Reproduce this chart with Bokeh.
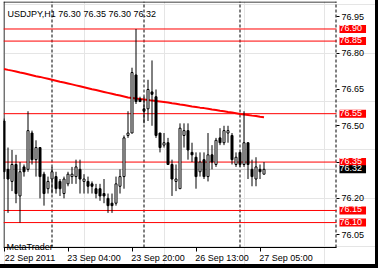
from bokeh.plotting import figure
from bokeh.models import (ColumnDataSource, Range1d, LinearAxis, FixedTicker,
                          Span, Label, PrintfTickFormatter, Spacer)
from bokeh.layouts import column, row
from bokeh.embed import file_html
from bokeh.resources import INLINE

# ---------------- data ----------------
bar_index = list(range(66))
opens = [76.52, 76.32, 76.27, 76.34, 76.21, 76.33, 76.32, 76.47, 76.36, 76.41,
         76.30, 76.24, 76.28, 76.29, 76.27, 76.22, 76.26, 76.29, 76.29, 76.32,
         76.27, 76.27, 76.26, 76.24, 76.24, 76.22, 76.20, 76.18, 76.18, 76.25,
         76.29, 76.46, 76.47, 76.71, 76.61, 76.57, 76.57, 76.64, 76.62, 76.47,
         76.42, 76.43, 76.34, 76.27, 76.24, 76.46, 76.48, 76.39, 76.37, 76.31,
         76.36, 76.29, 76.38, 76.34, 76.45, 76.43, 76.47, 76.46, 76.34, 76.39,
         76.34, 76.43, 76.32, 76.28, 76.32, 76.30]
highs = [76.53, 76.41, 76.40, 76.38, 76.35, 76.34, 76.56, 76.48, 76.44, 76.41,
         76.31, 76.29, 76.33, 76.31, 76.28, 76.29, 76.31, 76.33, 76.36, 76.36,
         76.30, 76.29, 76.27, 76.26, 76.26, 76.28, 76.22, 76.22, 76.29, 76.32,
         76.46, 76.56, 76.74, 76.90, 76.62, 76.62, 76.69, 76.77, 76.65, 76.47,
         76.47, 76.45, 76.36, 76.34, 76.51, 76.51, 76.51, 76.43, 76.39, 76.39,
         76.39, 76.47, 76.42, 76.45, 76.49, 76.50, 76.50, 76.47, 76.39, 76.39,
         76.56, 76.43, 76.36, 76.37, 76.34, 76.35]
lows = [76.28, 76.14, 76.23, 76.18, 76.10, 76.29, 76.31, 76.34, 76.29, 76.20,
        76.17, 76.22, 76.22, 76.22, 76.21, 76.20, 76.25, 76.26, 76.26, 76.22,
        76.22, 76.22, 76.22, 76.20, 76.19, 76.18, 76.14, 76.14, 76.17, 76.22,
        76.24, 76.45, 76.47, 76.59, 76.60, 76.51, 76.52, 76.50, 76.45, 76.39,
        76.41, 76.34, 76.21, 76.23, 76.24, 76.41, 76.36, 76.35, 76.24, 76.29,
        76.28, 76.27, 76.32, 76.33, 76.42, 76.42, 76.43, 76.34, 76.33, 76.33,
        76.33, 76.28, 76.25, 76.25, 76.28, 76.30]
closes = [76.31, 76.28, 76.34, 76.22, 76.31, 76.31, 76.48, 76.36, 76.41, 76.29,
          76.22, 76.27, 76.31, 76.24, 76.24, 76.28, 76.30, 76.30, 76.33, 76.28,
          76.28, 76.25, 76.25, 76.22, 76.21, 76.21, 76.17, 76.17, 76.26, 76.29,
          76.45, 76.47, 76.72, 76.60, 76.60, 76.56, 76.65, 76.63, 76.46, 76.41,
          76.43, 76.34, 76.28, 76.28, 76.49, 76.48, 76.40, 76.38, 76.29, 76.35,
          76.29, 76.38, 76.35, 76.44, 76.43, 76.48, 76.48, 76.36, 76.37, 76.34,
          76.43, 76.34, 76.29, 76.33, 76.31, 76.32]
ma_values = [76.735, 76.731, 76.728, 76.724, 76.720, 76.717, 76.713, 76.709, 76.705, 76.702,
             76.698, 76.694, 76.690, 76.686, 76.682, 76.679, 76.675, 76.671, 76.667, 76.663,
             76.659, 76.655, 76.651, 76.648, 76.644, 76.640, 76.636, 76.632, 76.628, 76.625,
             76.621, 76.617, 76.615, 76.613, 76.611, 76.609, 76.607, 76.604, 76.602, 76.600,
             76.598, 76.596, 76.593, 76.591, 76.588, 76.586, 76.583, 76.580, 76.578, 76.575,
             76.573, 76.570, 76.567, 76.565, 76.562, 76.560, 76.557, 76.555, 76.552, 76.549,
             76.547, 76.545, 76.542, 76.540, 76.537, 76.535]

red_levels = [76.90, 76.85, 76.55, 76.35, 76.15, 76.10]
bid_price = 76.32
price_ticks = [76.95, 76.80, 76.65, 76.50, 76.35, 76.20, 76.05]
time_ticks = [0, 16, 32, 48, 64]
time_labels = ["22 Sep 2011", "23 Sep 04:00", "23 Sep 20:00", "26 Sep 13:00", "27 Sep 05:00"]
day_separators = [12, 35, 59, 83]
title_text = "USDJPY,H1  76.30 76.35 76.30 76.32"
brand_text = "MetaTrader"

# ---------------- layout / style ----------------
FONT = "Liberation Sans"
FS = "9px"
RED = "#FF0000"
PX_PER_BAR = 4.0
PX_PER_PRICE = 241.98
CHART_W, CHART_H = 333, 246      # candle area (px)
FRAME_W, FRAME_H = 372, 263      # whole drawing frame (px)
X0 = -0.125
X_EDGE = X0 + CHART_W / PX_PER_BAR
X1 = X0 + FRAME_W / PX_PER_BAR
Y1 = 77.0136
Y_EDGE = Y1 - CHART_H / PX_PER_PRICE
Y0 = Y1 - FRAME_H / PX_PER_PRICE
LABEL_SHIFT = 26 / PX_PER_BAR    # left-aligned date labels: centre offset
HALF_PX_X = 0.5 / PX_PER_BAR
HALF_PX_Y = 0.5 / PX_PER_PRICE

tops = [max(o, c) for o, c in zip(opens, closes)]
bottoms = [min(o, c) for o, c in zip(opens, closes)]
fills = ["white" if c >= o else "black" for o, c in zip(opens, closes)]
src = ColumnDataSource(dict(x=bar_index, open=opens, high=highs, low=lows, close=closes,
                            top=tops, bottom=bottoms, fill=fills))
lvl_src = ColumnDataSource(dict(y=red_levels))
day_src = ColumnDataSource(dict(x=day_separators))

p = figure(width=FRAME_W + 3, height=FRAME_H + 1,
           x_range=Range1d(X0, X1), y_range=Range1d(Y0, Y1),
           output_backend="svg", toolbar_location=None, title_location=None,
           x_axis_location=None, y_axis_location=None,
           min_border_left=3, min_border_top=1, min_border_right=0, min_border_bottom=0)
p.sizing_mode = "fixed"
p.outline_line_color = None
p.background_fill_color = "white"
p.border_fill_color = "white"

# bottom axis: border line + tick marks
xaxis = LinearAxis(ticker=FixedTicker(ticks=time_ticks), bounds=(X0, X_EDGE),
                   fixed_location=Y_EDGE)
xaxis.axis_line_color = "black"
xaxis.major_tick_out = 4
xaxis.major_tick_in = 0
xaxis.minor_tick_line_color = None
xaxis.major_label_text_font_size = "0px"
xaxis.major_label_text_alpha = 0
p.add_layout(xaxis, "below")

# bottom axis: left-aligned date labels
label_ticks = [t + LABEL_SHIFT for t in time_ticks]
xlab = LinearAxis(ticker=FixedTicker(ticks=label_ticks), fixed_location=Y_EDGE,
                  major_label_overrides={t: l for t, l in zip(label_ticks, time_labels)})
xlab.axis_line_color = None
xlab.major_tick_line_color = None
xlab.minor_tick_line_color = None
xlab.major_tick_out = 4
xlab.major_tick_in = 0
xlab.major_label_standoff = 1
xlab.major_label_text_font = FONT
xlab.major_label_text_font_size = FS
xlab.major_label_text_color = "black"
p.add_layout(xlab, "below")

# price axis at the chart's right edge
yaxis = LinearAxis(ticker=FixedTicker(ticks=price_ticks), fixed_location=X_EDGE,
                   formatter=PrintfTickFormatter(format="%.2f"))
yaxis.axis_line_color = None
yaxis.major_tick_out = 3
yaxis.major_tick_in = 0
yaxis.minor_tick_line_color = None
yaxis.major_label_standoff = 2
yaxis.major_label_text_font = FONT
yaxis.major_label_text_font_size = FS
yaxis.major_label_text_color = "black"
p.add_layout(yaxis, "right")

# chart borders (left, top)
p.segment(x0=X0 + HALF_PX_X, x1=X0 + HALF_PX_X, y0=Y_EDGE, y1=Y1,
          line_color="black", line_width=1)
p.segment(x0=X0, x1=X_EDGE, y0=Y1 - HALF_PX_Y, y1=Y1 - HALF_PX_Y,
          line_color="black", line_width=1)

# day separators
p.segment(x0="x", x1="x", y0=Y_EDGE, y1=Y1, source=day_src, line_color="black",
          line_width=1, line_dash="3 2")

# horizontal levels
p.segment(x0=X0, x1=X_EDGE, y0="y", y1="y", source=lvl_src, line_color=RED, line_width=1)
p.segment(x0=X0, x1=X_EDGE, y0=bid_price, y1=bid_price, line_color="#C0C0C0", line_width=1)

# moving average
p.line(bar_index, ma_values, line_color=RED, line_width=2)

# candles
p.segment(x0="x", y0="low", x1="x", y1="high", source=src, line_color="black", line_width=1)
p.vbar(x="x", width=0.5, top="top", bottom="bottom", source=src,
       fill_color="fill", line_color="black", line_width=1)

# texts
p.add_layout(Label(x=4, y=FRAME_H - 12, x_units="screen", y_units="screen", text=title_text,
                   text_font=FONT, text_font_size=FS, text_color="black",
                   text_baseline="alphabetic"))
p.add_layout(Label(x=3, y=FRAME_H - 245, x_units="screen", y_units="screen", text=brand_text,
                   text_font=FONT, text_font_size=FS, text_color="black",
                   text_baseline="alphabetic"))

box_x = X_EDGE + 3 / PX_PER_BAR
for lvl in red_levels:
    p.add_layout(Label(x=box_x, y=lvl, text="%.2f" % lvl, text_font=FONT, text_font_size=FS,
                       text_color="white", background_fill_color=RED,
                       text_baseline="middle", text_align="left", padding=(0, 4, 0, 2)))
p.add_layout(Label(x=box_x, y=bid_price, text="%.2f" % bid_price, text_font=FONT,
                   text_font_size=FS, text_color="white", background_fill_color="black",
                   text_baseline="middle", text_align="left", padding=(0, 4, 0, 2)))

black = {"background-color": "black"}
layout = column(row(p, Spacer(width=3, height=FRAME_H + 1, styles=black)),
                Spacer(width=FRAME_W + 6, height=4, styles=black))

open("out.html", "w").write(file_html(layout, INLINE))
